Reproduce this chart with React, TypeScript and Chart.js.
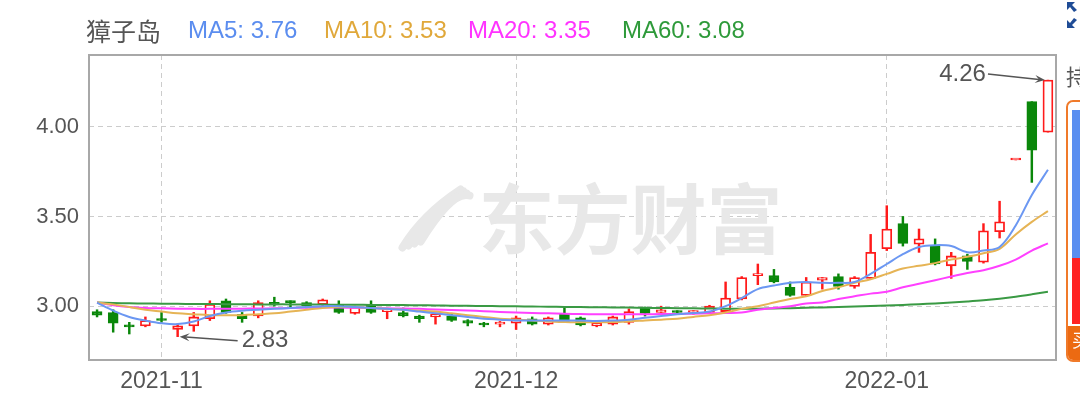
import React, { useEffect, useRef } from 'react';
import { Chart, registerables } from 'chart.js';

Chart.register(...registerables);

const stockName = '獐子岛';

const dates = [
  '2021-10-26', '2021-10-27', '2021-10-28', '2021-10-29',
  '2021-11-01', '2021-11-02', '2021-11-03', '2021-11-04', '2021-11-05',
  '2021-11-08', '2021-11-09', '2021-11-10', '2021-11-11', '2021-11-12',
  '2021-11-15', '2021-11-16', '2021-11-17', '2021-11-18', '2021-11-19',
  '2021-11-22', '2021-11-23', '2021-11-24', '2021-11-25', '2021-11-26',
  '2021-11-29', '2021-11-30',
  '2021-12-01', '2021-12-02', '2021-12-03',
  '2021-12-06', '2021-12-07', '2021-12-08', '2021-12-09', '2021-12-10',
  '2021-12-13', '2021-12-14', '2021-12-15', '2021-12-16', '2021-12-17',
  '2021-12-20', '2021-12-21', '2021-12-22', '2021-12-23', '2021-12-24',
  '2021-12-27', '2021-12-28', '2021-12-29', '2021-12-30', '2021-12-31',
  '2022-01-04', '2022-01-05', '2022-01-06', '2022-01-07',
  '2022-01-10', '2022-01-11', '2022-01-12', '2022-01-13', '2022-01-14',
  '2022-01-17', '2022-01-18',
];

const openPrices = [
  2.97, 2.965, 2.895, 2.89, 2.925, 2.87, 2.89, 2.93, 3.03, 2.955,
  2.945, 3.02, 3.03, 3.02, 3.01, 3.01, 2.96, 3.005, 2.97, 2.965,
  2.945, 2.94, 2.945, 2.92, 2.9, 2.9, 2.905, 2.93, 2.9, 2.955,
  2.935, 2.89, 2.9, 2.91, 2.99, 2.965, 2.97, 2.965, 2.965, 2.97,
  3.04, 3.17, 3.17, 3.105, 3.06, 3.145, 3.165, 3.11, 3.155, 3.32,
  3.46, 3.345, 3.335, 3.225, 3.28, 3.245, 3.415, 3.815, 4.14, 3.97,
];
const highPrices = [
  2.98, 2.98, 2.91, 2.94, 2.965, 2.9, 2.965, 3.03, 3.04, 2.965,
  3.03, 3.05, 3.03, 3.025, 3.04, 3.03, 3.0, 3.03, 2.975, 2.99,
  2.95, 2.96, 2.955, 2.925, 2.91, 2.915, 2.945, 2.94, 2.94, 2.99,
  2.94, 2.91, 2.945, 2.985, 2.995, 3.0, 2.975, 2.975, 3.005, 3.135,
  3.165, 3.235, 3.205, 3.135, 3.16, 3.16, 3.18, 3.165, 3.4, 3.56,
  3.5, 3.43, 3.375, 3.3, 3.29, 3.46, 3.585, 3.815, 4.14, 4.26,
];
const lowPrices = [
  2.94, 2.855, 2.845, 2.885, 2.91, 2.83, 2.86, 2.92, 2.96, 2.91,
  2.935, 3.0, 2.995, 2.99, 3.0, 2.96, 2.955, 2.96, 2.93, 2.94,
  2.91, 2.9, 2.915, 2.89, 2.885, 2.885, 2.87, 2.895, 2.895, 2.91,
  2.89, 2.885, 2.895, 2.9, 2.945, 2.965, 2.96, 2.955, 2.96, 2.96,
  3.035, 3.12, 3.13, 3.055, 3.055, 3.095, 3.095, 3.1, 3.15, 3.31,
  3.335, 3.3, 3.23, 3.155, 3.205, 3.24, 3.38, 3.815, 3.69, 3.97,
];
const closePrices = [
  2.95, 2.905, 2.885, 2.92, 2.92, 2.89, 2.94, 3.01, 2.965, 2.93,
  3.02, 3.01, 3.02, 3.0, 3.035, 2.965, 2.995, 2.965, 2.975, 2.945,
  2.93, 2.955, 2.92, 2.905, 2.895, 2.91, 2.935, 2.9, 2.935, 2.915,
  2.895, 2.905, 2.94, 2.97, 2.96, 2.98, 2.965, 2.97, 3.0, 3.045,
  3.16, 3.18, 3.135, 3.06, 3.135, 3.16, 3.11, 3.16, 3.3, 3.43,
  3.35, 3.375, 3.235, 3.28, 3.25, 3.42, 3.47, 3.815, 3.87, 4.26,
];

const ma5 = [
  3.02, 2.975, 2.94, 2.92, 2.905, 2.9, 2.915, 2.945, 2.965, 2.975,
  2.98, 2.985, 2.99, 2.995, 3.0, 3.0, 2.995, 2.99, 2.985, 2.98,
  2.97, 2.96, 2.95, 2.94, 2.93, 2.925, 2.92, 2.92, 2.92, 2.92,
  2.92, 2.918, 2.92, 2.925, 2.935, 2.945, 2.955, 2.962, 2.97, 3.0,
  3.045, 3.095, 3.115, 3.13, 3.135, 3.13, 3.13, 3.135, 3.18, 3.235,
  3.29, 3.33, 3.34, 3.335, 3.3, 3.31, 3.33, 3.45, 3.62, 3.76,
];
const ma10 = [
  3.02, 3.01, 2.995, 2.98, 2.97, 2.96, 2.955, 2.95, 2.95, 2.95,
  2.955, 2.96, 2.97, 2.98, 2.99, 2.995, 2.995, 2.99, 2.985, 2.98,
  2.975, 2.97, 2.96, 2.95, 2.94, 2.93, 2.925, 2.92, 2.915, 2.912,
  2.91, 2.91, 2.912, 2.915, 2.92, 2.925, 2.93, 2.94, 2.95, 2.965,
  2.985, 3.0, 3.02, 3.04, 3.055, 3.085, 3.105, 3.13, 3.15, 3.18,
  3.21, 3.225, 3.24, 3.26, 3.275, 3.295, 3.32, 3.4, 3.47, 3.53,
];
const ma20 = [
  3.02, 3.005, 2.995, 2.99, 2.988, 2.986, 2.985, 2.985, 2.986, 2.986,
  2.987, 2.988, 2.99, 2.991, 2.992, 2.992, 2.991, 2.99, 2.988, 2.987,
  2.985, 2.982, 2.979, 2.976, 2.972, 2.968, 2.965, 2.962, 2.96, 2.958,
  2.956, 2.955, 2.955, 2.955, 2.955, 2.956, 2.957, 2.958, 2.96, 2.962,
  2.965, 2.98, 2.99, 3.0, 3.015, 3.02, 3.04, 3.055, 3.07, 3.08,
  3.105, 3.125, 3.145, 3.165, 3.185, 3.2, 3.225, 3.26, 3.31, 3.35,
];
const ma60 = [
  3.02, 3.018, 3.016, 3.015, 3.014, 3.013, 3.012, 3.012, 3.011, 3.011,
  3.01, 3.01, 3.01, 3.009, 3.009, 3.008, 3.008, 3.007, 3.007, 3.006,
  3.005, 3.004, 3.003, 3.002, 3.001, 3.0, 2.999, 2.998, 2.997, 2.996,
  2.995, 2.994, 2.993, 2.992, 2.991, 2.99, 2.989, 2.988, 2.987, 2.986,
  2.985, 2.986, 2.987, 2.989, 2.991, 2.993, 2.995, 2.998, 3.001, 3.004,
  3.007, 3.011, 3.015, 3.02, 3.026, 3.033, 3.042, 3.053, 3.066, 3.08,
];

const yTicks = [3.0, 3.5, 4.0];

const UP = '#ff1a1a';
const DOWN = '#0a870a';
const AXIS_TEXT = '#555555';
const GRID = '#cccccc';

const maLines = [
  { name: 'MA5', data: ma5, color: '#5b8def', line: '#6b97f2' },
  { name: 'MA10', data: ma10, color: '#e0a83a', line: '#e6b455' },
  { name: 'MA20', data: ma20, color: '#ff33ff', line: '#ff40ff' },
  { name: 'MA60', data: ma60, color: '#2e9a3a', line: '#3a9a44' },
];

const legendLeft = [188, 324, 468, 622];

const monthLabel = (i: number): string => {
  if (i === 0) return '';
  const cur = dates[i].slice(0, 7);
  const prev = dates[i - 1].slice(0, 7);
  return cur !== prev ? cur : '';
};

const drawArrow = (ctx: CanvasRenderingContext2D, x1: number, y1: number, x2: number, y2: number) => {
  const ang = Math.atan2(y2 - y1, x2 - x1);
  const len = 10;
  const hw = 4;
  ctx.beginPath();
  ctx.moveTo(x1, y1);
  ctx.lineTo(x2 - Math.cos(ang) * len * 0.6, y2 - Math.sin(ang) * len * 0.6);
  ctx.stroke();
  ctx.beginPath();
  ctx.moveTo(x2, y2);
  ctx.lineTo(x2 - Math.cos(ang) * len + Math.sin(ang) * hw, y2 - Math.sin(ang) * len - Math.cos(ang) * hw);
  ctx.lineTo(x2 - Math.cos(ang) * len * 0.6, y2 - Math.sin(ang) * len * 0.6);
  ctx.lineTo(x2 - Math.cos(ang) * len - Math.sin(ang) * hw, y2 - Math.sin(ang) * len + Math.cos(ang) * hw);
  ctx.closePath();
  ctx.fill();
};

const decorPlugin = {
  id: 'decor',
  beforeDatasetsDraw(chart: any) {
    const { ctx, chartArea } = chart;
    const cx = (chartArea.left + chartArea.right) / 2;
    const cy = (chartArea.top + chartArea.bottom) / 2;
    ctx.save();
    ctx.fillStyle = '#e8e8e8';
    ctx.strokeStyle = '#e8e8e8';
    ctx.font = 'bold 76px "Noto Sans CJK SC"';
    ctx.textBaseline = 'middle';
    ctx.textAlign = 'left';
    ctx.fillText('东方财富', cx - 94, cy + 12);
    // logo swoosh
    ctx.lineCap = 'round';
    const lx = cx - 140;
    const ly = cy + 12;
    ctx.lineWidth = 8;
    for (let k = 0; k < 4; k++) {
      ctx.beginPath();
      ctx.moveTo(lx - 30 + k * 6, ly + 28 - k * 2);
      ctx.quadraticCurveTo(lx - 10 + k * 10, ly - 5 - k * 8, lx + 28 + k * 3, ly - 30 + k * 2);
      ctx.stroke();
    }
    ctx.restore();
  },
  afterDraw(chart: any) {
    const { ctx, chartArea, scales } = chart;
    ctx.save();
    // frame
    ctx.strokeStyle = '#a8a8a8';
    ctx.lineWidth = 2;
    ctx.strokeRect(chartArea.left, chartArea.top, chartArea.right - chartArea.left, chartArea.bottom - chartArea.top);

    // min / max annotations
    let minIdx = 0;
    let maxIdx = 0;
    lowPrices.forEach((v, i) => { if (v < lowPrices[minIdx]) minIdx = i; });
    highPrices.forEach((v, i) => { if (v > highPrices[maxIdx]) maxIdx = i; });
    ctx.strokeStyle = '#555555';
    ctx.fillStyle = '#555555';
    ctx.lineWidth = 1.5;
    ctx.font = '24px "Liberation Sans", Arial, sans-serif';
    ctx.textBaseline = 'middle';

    const lpX = scales.x.getPixelForValue(minIdx);
    const lpY = scales.y.getPixelForValue(lowPrices[minIdx]);
    drawArrow(ctx, lpX + 60, lpY + 4, lpX + 2, lpY);
    ctx.textAlign = 'left';
    ctx.fillText(lowPrices[minIdx].toFixed(2), lpX + 64, lpY + 4);

    const hpX = scales.x.getPixelForValue(maxIdx);
    const hpY = scales.y.getPixelForValue(highPrices[maxIdx]);
    drawArrow(ctx, hpX - 60, hpY - 6, hpX - 3, hpY);
    ctx.textAlign = 'right';
    ctx.fillText(highPrices[maxIdx].toFixed(2), hpX - 62, hpY - 6);
    ctx.restore();
  },
};

export default function App() {
  const canvasRef = useRef<HTMLCanvasElement | null>(null);

  useEffect(() => {
    if (!canvasRef.current) return;
    const isUp = openPrices.map((o, i) => closePrices[i] >= o);
    const tickFont = { family: '"Liberation Sans", Arial, sans-serif', size: 22 };

    const chart = new Chart(canvasRef.current, {
      type: 'bar',
      data: {
        labels: dates,
        datasets: [
          ...maLines.map((m) => ({
            type: 'line' as const,
            label: m.name,
            data: m.data,
            borderColor: m.line,
            borderWidth: 2,
            pointRadius: 0,
            tension: 0.35,
            fill: false,
            order: 0,
          })),
          {
            type: 'bar' as const,
            label: 'body',
            data: openPrices.map((o, i) => [Math.min(o, closePrices[i]), Math.max(o, closePrices[i])]),
            backgroundColor: isUp.map((u) => (u ? '#ffffff' : DOWN)),
            borderColor: isUp.map((u) => (u ? UP : DOWN)),
            borderWidth: 1.8,
            borderSkipped: false,
            barThickness: 10,
            minBarLength: 2,
            grouped: false,
            order: 1,
          },
          {
            type: 'bar' as const,
            label: 'wick',
            data: lowPrices.map((l, i) => [l, highPrices[i]]),
            backgroundColor: isUp.map((u) => (u ? UP : DOWN)),
            borderWidth: 0,
            barThickness: 1.8,
            grouped: false,
            order: 2,
          },
        ] as any,
      },
      options: {
        animation: false,
        responsive: true,
        maintainAspectRatio: false,
        layout: { padding: { top: 55, right: 24, left: 0, bottom: 0 } },
        plugins: {
          legend: { display: false },
          tooltip: { enabled: false },
        },
        events: [],
        scales: {
          x: {
            type: 'category',
            offset: true,
            grid: {
              offset: false,
              drawTicks: false,
              color: (c: any) => (monthLabel(c.index) ? GRID : 'rgba(0,0,0,0)'),
              lineWidth: 1,
            },
            border: { display: false, dash: [5, 4] },
            ticks: {
              autoSkip: false,
              maxRotation: 0,
              padding: 8,
              color: AXIS_TEXT,
              font: { family: '"Liberation Sans", Arial, sans-serif', size: 23 },
              callback: (_v: any, i: number) => monthLabel(i),
            },
            afterFit: (s: any) => { s.height = 41; },
          },
          y: {
            min: 2.7,
            max: 4.4,
            afterBuildTicks: (s: any) => { s.ticks = yTicks.map((v) => ({ value: v })); },
            grid: { color: GRID, drawTicks: false, lineWidth: 1 },
            border: { display: false, dash: [5, 4] },
            ticks: {
              padding: 10,
              color: AXIS_TEXT,
              font: tickFont,
              callback: (v: any) => Number(v).toFixed(2),
            },
            afterFit: (s: any) => { s.width = 89; },
          },
        },
      } as any,
      plugins: [decorPlugin],
    });
    return () => chart.destroy();
  }, []);

  return (
    <div style={{ position: 'fixed', left: 0, top: 0, width: 1080, height: 401, background: '#fff', overflow: 'hidden' }}>
      <canvas ref={canvasRef} style={{ position: 'absolute', left: 0, top: 0, width: 1080, height: 401 }} />
      <div style={{ position: 'absolute', left: 86, top: 13, height: 34, lineHeight: '34px', whiteSpace: 'nowrap', fontFamily: '"Noto Sans CJK SC", sans-serif', fontSize: 25, color: '#555' }}>
        {stockName}
      </div>
      {maLines.map((m, i) => (
        <div key={m.name} style={{ position: 'absolute', left: legendLeft[i], top: 13, height: 34, lineHeight: '34px', whiteSpace: 'nowrap', fontFamily: '"Liberation Sans", Arial, sans-serif', fontSize: 24, color: m.color }}>
          {m.name}: {m.data[m.data.length - 1].toFixed(2)}
        </div>
      ))}
      {/* partial side panel */}
      <svg style={{ position: 'absolute', left: 1064, top: 0 }} width={16} height={30}>
        <path d="M3 2 L11 2 L8 5 L13 10 L10 12 L6 7 L3 10 Z" fill="#1f4c96" />
        <path d="M3 28 L11 28 L8 25 L13 20 L10 18 L6 23 L3 20 Z" fill="#1f4c96" />
      </svg>
      <div style={{ position: 'absolute', left: 1066, top: 60, fontFamily: '"Noto Sans CJK SC", sans-serif', fontSize: 22, color: '#555', lineHeight: '30px' }}>持</div>
      <div style={{ position: 'absolute', left: 1066, top: 100, width: 30, height: 262, border: '2px solid #f07a2a', borderRadius: 7, background: '#fff', boxSizing: 'border-box', overflow: 'hidden' }}>
        <div style={{ position: 'absolute', left: 4, top: 8, width: 30, height: 148, background: '#5a8ef0' }} />
        <div style={{ position: 'absolute', left: 4, top: 156, width: 30, height: 66, background: '#ff2222' }} />
        <div style={{ position: 'absolute', left: 0, top: 224, width: 30, height: 40, background: '#ec6a12', color: '#fff', fontFamily: '"Noto Sans CJK SC", sans-serif', fontSize: 18, paddingLeft: 4 }}>买</div>
      </div>
    </div>
  );
}
